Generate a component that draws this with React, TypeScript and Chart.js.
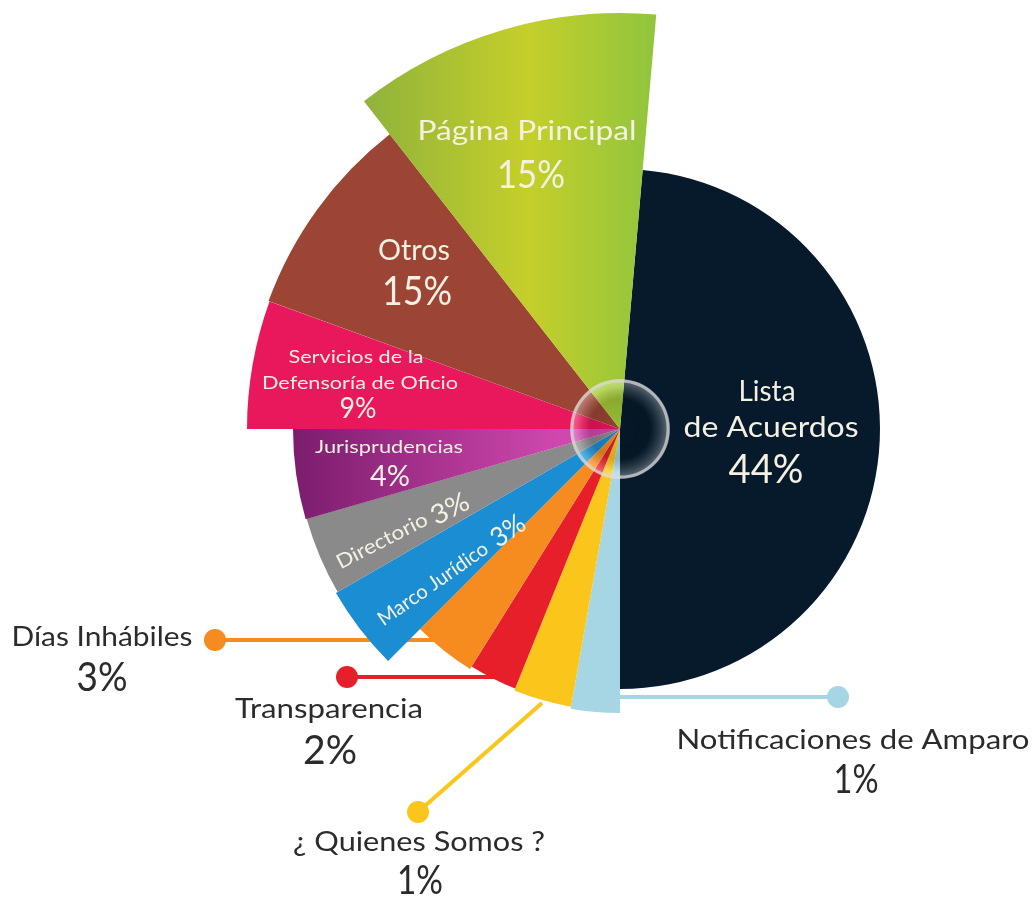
import React, { useEffect, useRef } from "react";
import { Chart, registerables } from "chart.js";

Chart.register(...registerables);

// ---- data (clockwise from the top) ----
const categories = [
  "Lista de Acuerdos",
  "Notificaciones de Amparo",
  "¿ Quienes Somos ?",
  "Transparencia",
  "Días Inhábiles",
  "Marco Jurídico",
  "Directorio",
  "Jurisprudencias",
  "Servicios de la Defensoría de Oficio",
  "Otros",
  "Página Principal",
];
const percentages = [44, 1, 1, 2, 3, 3, 3, 4, 9, 15, 15];
// sweep of every slice in degrees, as drawn in the infographic
const sliceAngles = [175, 10, 12, 10, 13, 15, 14, 16, 20, 32, 43];
// outer radius of every slice (radial scale units)
const sliceRadii = [260, 284, 282, 280, 283, 328, 326, 327, 373, 374, 416];
const sliceColors = [
  "#061a2b",
  "#a6d6e3",
  "#fbc61b",
  "#e71f2b",
  "#f68b20",
  "#1b8ed3",
  "#8a8a8a",
  "#a0288f",
  "#e9175c",
  "#9c4535",
  "#a2c23a",
];

// text lines shown for each slice (t: null = percentage)
type Line = { t: string | null; s: number; dx: number; dy: number; rot?: number; w?: number };
const insideLabels: { i: number; lines: Line[] }[] = [
  { i: 0, lines: [
    { t: "Lista", s: 29, dx: 147, dy: -37, w: 57 },
    { t: "de Acuerdos", s: 29, dx: 151, dy: -1, w: 175 },
    { t: null, s: 40, dx: 146, dy: 41, w: 75 },
  ] },
  { i: 10, lines: [
    { t: "Página Principal", s: 27, dx: -93, dy: -298, w: 219 },
    { t: null, s: 39, dx: -89, dy: -254, w: 68 },
  ] },
  { i: 9, lines: [
    { t: "Otros", s: 28, dx: -206, dy: -178, w: 72 },
    { t: null, s: 40, dx: -203, dy: -137, w: 70 },
  ] },
  { i: 8, lines: [
    { t: "Servicios de la", s: 18, dx: -264, dy: -72, w: 135 },
    { t: "Defensoría de Oficio", s: 18, dx: -260, dy: -46, w: 196 },
    { t: null, s: 28, dx: -262, dy: -20, w: 37 },
  ] },
  { i: 7, lines: [
    { t: "Jurisprudencias", s: 18, dx: -231, dy: 18, w: 148 },
    { t: null, s: 28, dx: -230, dy: 48, w: 40 },
  ] },
  { i: 6, lines: [
    { t: "Directorio", s: 20, dx: -238, dy: 112, rot: -27, w: 100 },
    { t: null, s: 27, dx: -170, dy: 80, rot: -27, w: 40 },
  ] },
  { i: 5, lines: [
    { t: "Marco Jurídico", s: 20, dx: -187, dy: 155, rot: -35, w: 130 },
    { t: null, s: 27, dx: -112, dy: 102, rot: -35, w: 36 },
  ] },
];

type Ext = { i: number; text: string; w: number; pw: number; tx: number; ty: number; px: number; py: number; dot: [number, number]; end: [number, number] };
const outsideLabels: Ext[] = [
  { i: 4, text: "Días Inhábiles", w: 181, pw: 51, tx: -518, ty: 208, px: -518, py: 249, dot: [-405, 211], end: [-175, 211] },
  { i: 3, text: "Transparencia", w: 188, pw: 54, tx: -291, ty: 280, px: -290, py: 322, dot: [-273, 248], end: [-110, 248] },
  { i: 2, text: "¿ Quienes Somos ?", w: 252, pw: 46, tx: -201, ty: 413, px: -200, py: 452, dot: [-202, 383], end: [-78, 274] },
  { i: 1, text: "Notificaciones de Amparo", w: 353, pw: 45, tx: 233, ty: 311, px: 236, py: 351, dot: [218, 268], end: [0, 268] },
];

const FONT = "Lato, 'Open Sans', sans-serif";

function drawText(
  ctx: CanvasRenderingContext2D,
  text: string,
  x: number,
  y: number,
  size: number,
  color: string,
  rot = 0,
  w?: number
) {
  ctx.save();
  ctx.translate(x, y);
  if (rot) ctx.rotate((rot * Math.PI) / 180);
  ctx.font = `${size}px ${FONT}`;
  if (w) {
    const m = ctx.measureText(text).width;
    if (m > 0) ctx.scale(w / m, 1);
  }
  ctx.fillStyle = color;
  ctx.textAlign = "center";
  ctx.textBaseline = "middle";
  ctx.fillText(text, 0, 0);
  ctx.restore();
}

export default function App() {
  const ref = useRef<HTMLCanvasElement>(null);

  useEffect(() => {
    const canvas = ref.current!;

    const labelPlugin = {
      id: "infoLabels",
      beforeDatasetsDraw(chart: any) {
        const ctx: CanvasRenderingContext2D = chart.ctx;
        const r = chart.scales.r;
        const cx = r.xCenter, cy = r.yCenter;
        ctx.save();
        ctx.lineWidth = 4;
        outsideLabels.forEach((o) => {
          ctx.strokeStyle = sliceColors[o.i];
          ctx.beginPath();
          ctx.moveTo(cx + o.dot[0], cy + o.dot[1]);
          ctx.lineTo(cx + o.end[0], cy + o.end[1]);
          ctx.stroke();
        });
        ctx.restore();
      },
      afterDatasetsDraw(chart: any) {
        const ctx: CanvasRenderingContext2D = chart.ctx;
        const r = chart.scales.r;
        const cx = r.xCenter, cy = r.yCenter;

        // glossy ring in the centre
        ctx.save();
        const g = ctx.createRadialGradient(cx, cy, 0, cx, cy, 50);
        g.addColorStop(0, "rgba(0,0,0,0.05)");
        g.addColorStop(0.6, "rgba(0,0,0,0.15)");
        g.addColorStop(0.85, "rgba(255,255,255,0.2)");
        g.addColorStop(1, "rgba(255,255,255,0.4)");
        ctx.fillStyle = g;
        ctx.beginPath();
        ctx.arc(cx, cy, 50, 0, Math.PI * 2);
        ctx.fill();
        ctx.strokeStyle = "rgba(215,215,215,0.7)";
        ctx.lineWidth = 3;
        ctx.beginPath();
        ctx.arc(cx, cy, 48, 0, Math.PI * 2);
        ctx.stroke();
        ctx.restore();

        // labels inside slices
        insideLabels.forEach((l) => {
          l.lines.forEach((ln) => {
            const txt = ln.t === null ? `${percentages[l.i]}%` : ln.t;
            drawText(ctx, txt, cx + ln.dx, cy + ln.dy, ln.s, "#f4f0e2", ln.rot || 0, ln.w);
          });
        });

        // labels outside with leader dots
        outsideLabels.forEach((o) => {
          ctx.save();
          ctx.fillStyle = sliceColors[o.i];
          ctx.beginPath();
          ctx.arc(cx + o.dot[0], cy + o.dot[1], 11, 0, Math.PI * 2);
          ctx.fill();
          ctx.restore();
          drawText(ctx, o.text, cx + o.tx, cy + o.ty, 27, "#2b2b2b", 0, o.w);
          drawText(ctx, `${percentages[o.i]}%`, cx + o.px, cy + o.py, 40, "#2b2b2b", 0, o.pw);
        });
      },
    };

    const bg = (c: any) => {
      const i = c.dataIndex;
      const chart = c.chart;
      const r = chart.scales && chart.scales.r;
      if (!chart.chartArea || !r || r.xCenter === undefined) return sliceColors[i];
      const ctx: CanvasRenderingContext2D = chart.ctx;
      const cx = r.xCenter;
      if (i === 10) {
        const g = ctx.createLinearGradient(cx - 260, 0, cx + 45, 0);
        g.addColorStop(0, "#8eb23c");
        g.addColorStop(0.55, "#c5cf2a");
        g.addColorStop(1, "#8cc43f");
        return g;
      }
      if (i === 7) {
        const g = ctx.createLinearGradient(cx - 330, 0, cx - 60, 0);
        g.addColorStop(0, "#7a1c6c");
        g.addColorStop(1, "#d048ae");
        return g;
      }
      return sliceColors[i];
    };

    const chart = new Chart(canvas, {
      type: "polarArea",
      data: {
        labels: categories,
        datasets: [
          {
            data: sliceRadii,
            angle: (c: any) => sliceAngles[c.dataIndex],
            backgroundColor: bg,
            borderWidth: 0,
            clip: false,
          } as any,
        ],
      },
      options: {
        responsive: false,
        animation: false,
        layout: { padding: { left: 210, right: 5, top: 19, bottom: 58 } },
        plugins: { legend: { display: false }, tooltip: { enabled: false } },
        scales: {
          r: { display: false, min: 0, max: 410, startAngle: 5 } as any,
        },
      },
      plugins: [labelPlugin as any],
    });
    return () => chart.destroy();
  }, []);

  return (
    <canvas
      ref={ref}
      width={1035}
      height={897}
      style={{ position: "absolute", left: 0, top: 0, width: 1035, height: 897 }}
    />
  );
}
